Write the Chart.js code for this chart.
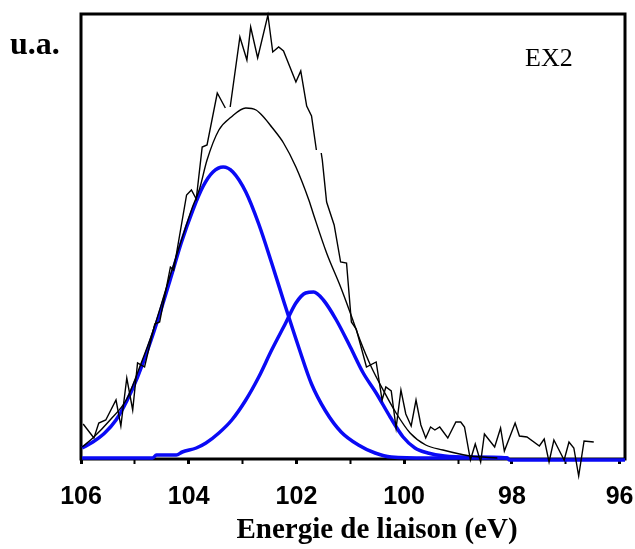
<!DOCTYPE html>
<html>
<head>
<meta charset="utf-8">
<script src="https://cdn.jsdelivr.net/npm/chart.js@4.4.1/dist/chart.umd.min.js"></script>
<style>
  html, body { margin: 0; padding: 0; background: #fff; }
  #wrap { width: 635px; height: 549px; }
</style>
</head>
<body>
<div id="wrap"><canvas id="xps" width="635" height="549"></canvas></div>
<script>
// raw spectrum (binding energy in eV, intensity in arbitrary units)
const rawEnergy = [105.96, 105.76, 105.67, 105.54, 105.35, 105.26, 105.15, 105.04, 104.95, 104.82,
    104.63, 104.54, 104.34, 104.28, 104.04, 103.95, 103.86, 103.75, 103.66, 103.47, 103.32,
    103.28,
    103.23, 103.05, 102.92, 102.85, 102.72, 102.53, 102.44, 102.33, 102.24, 102.01, 101.92,
    101.81, 101.72, 101.63,
    101.58,
    101.54, 101.52, 101.44, 101.30, 101.18, 101.07, 100.98, 100.89, 100.70, 100.52, 100.41,
    100.34, 100.24, 100.15, 100.06, 99.97, 99.87, 99.78, 99.69, 99.60, 99.51, 99.43, 99.34,
    99.19, 99.04, 98.95, 98.88, 98.77, 98.68, 98.58, 98.51, 98.32, 98.21, 98.14, 97.94,
    97.86, 97.72, 97.49, 97.40, 97.31, 97.22, 97.03, 96.94, 96.85, 96.76, 96.66, 96.48];
const rawCounts = [35, 21, 36, 39, 59, 33, 81, 49, 96, 92,
    135, 137, 192, 189, 264, 269, 260, 312, 314, 366, 351,
    null,
    352, 422, 399, 432, 401, 444, 407, 412, 408, 377, 388,
    353, 343, 309,
    null,
    306, 299, 257, 234, 197, 196, 137, 130, 92, 97, 59,
    72, 68, 31, 69, 45, 33, 59, 34, 21, 32, 29, 32,
    21, 37, 37, 32, -1, 15, -3, 25, 12, 31, 8, 36,
    23, 22, 13, 20, -3, 19, -1, 17, 11, -17, 18, 17];

// fitted envelope (sum of components)
const envEnergy = [105.98, 105.78, 105.46, 105.15, 104.91, 104.67, 104.41, 104.17, 103.93, 103.80,
    103.66, 103.44, 103.21, 102.94, 102.75, 102.61, 102.46, 102.24, 102.01, 101.77, 101.68,
    101.44, 101.18, 101.00, 100.82, 100.61, 100.39, 100.15, 99.89, 99.60, 99.28, 98.97,
    98.77, 98.27];
const envCounts = [12, 21, 39, 60, 92, 127, 172, 213, 252, 270,
    299, 329, 342, 351, 349, 342, 332, 316, 292, 259, 244,
    206, 172, 146, 119, 92, 69, 46, 26, 14, 9, 5,
    3, 1];

// component 1 (high energy)
const peak1Energy = [105.98, 105.78, 105.56, 105.35, 105.15, 104.95, 104.75, 104.54, 104.34, 104.14,
    103.93, 103.73, 103.55, 103.36, 103.18, 102.94, 102.70, 102.46, 102.22, 101.96, 101.72,
    101.46, 101.17, 100.85, 100.54, 100.24, 99.56, 98.08];
const peak1Counts = [11, 17, 26, 39, 58, 82, 111, 145, 180, 216,
    248, 273, 287, 292, 287, 267, 235, 196, 155, 112, 75,
    48, 27, 14, 6, 2, 1, 1];

// component 2 (low energy)
const peak2Energy = [105.98, 104.67, 104.60, 104.23, 104.12, 103.86, 103.68, 103.44, 103.20, 102.94,
    102.70, 102.46, 102.20, 102.01, 101.83, 101.68, 101.50, 101.26, 101.00, 100.76, 100.52,
    100.26, 100.02, 99.80, 99.56, 99.25, 98.77, 98.08, 98.05, 95.90];
const peak2Counts = [1, 1, 4, 4, 7, 11, 16, 26, 39, 59,
    82, 109, 136, 156, 166, 167, 159, 139, 112, 86, 66,
    42, 22, 11, 6, 3, 2, 1, -1, -1];

const toPoints = (xs, ys) => xs.map((x, i) => ({ x: x, y: ys[i] }));

const blue = '#0a0af5';

// frame around the plot + free text
const decor = {
    id: 'decor',
    beforeDatasetsDraw(chart) {
        const a = chart.chartArea, ctx = chart.ctx;
        ctx.save();
        ctx.strokeStyle = '#000';
        ctx.lineWidth = 3;
        ctx.strokeRect(a.left, a.top, a.right - a.left, a.bottom - a.top);
        ctx.restore();
    },
    afterDraw(chart) {
        const ctx = chart.ctx;
        ctx.save();
        ctx.fillStyle = '#000';
        ctx.textBaseline = 'alphabetic';
        ctx.font = 'bold 32px "Liberation Serif"';
        ctx.fillText('u.a.', 10, 54);
        ctx.font = '26px "Liberation Serif"';
        ctx.fillText('EX2', 525, 66);
        ctx.font = 'bold 29px "Liberation Serif"';
        ctx.textAlign = 'center';
        ctx.fillText('Energie de liaison (eV)', 377, 538);
        ctx.restore();
    }
};

new Chart(document.getElementById('xps'), {
    type: 'line',
    data: {
        datasets: [
            {
                label: 'EX2',
                data: toPoints(rawEnergy, rawCounts),
                borderColor: '#000',
                borderWidth: 1.4,
                pointRadius: 0,
                tension: 0,
                spanGaps: false,
                clip: false
            },
            {
                label: 'enveloppe',
                data: toPoints(envEnergy, envCounts),
                borderColor: '#000',
                borderWidth: 1.4,
                pointRadius: 0,
                cubicInterpolationMode: 'monotone'
            },
            {
                label: 'composante 1',
                data: toPoints(peak1Energy, peak1Counts),
                borderColor: blue,
                borderWidth: 3.5,
                pointRadius: 0,
                cubicInterpolationMode: 'monotone',
                clip: false
            },
            {
                label: 'composante 2',
                data: toPoints(peak2Energy, peak2Counts),
                borderColor: blue,
                borderWidth: 3.5,
                pointRadius: 0,
                cubicInterpolationMode: 'monotone',
                clip: false
            }
        ]
    },
    options: {
        responsive: false,
        animation: false,
        layout: { padding: { left: 81, right: 10, top: 14, bottom: 0 } },
        plugins: {
            legend: { display: false },
            tooltip: { enabled: false }
        },
        scales: {
            x: {
                type: 'linear',
                reverse: true,
                min: 95.9,
                max: 106,
                afterFit(scale) {
                    scale.height = 90;
                    scale.paddingLeft = 0;
                    scale.paddingRight = 0;
                },
                afterBuildTicks(scale) {
                    scale.ticks = [96, 97, 98, 99, 100, 101, 102, 103, 104, 105, 106].map(v => ({ value: v }));
                },
                ticks: {
                    autoSkip: false,
                    maxRotation: 0,
                    padding: 18,
                    color: '#000',
                    font: { family: '"Liberation Sans"', size: 25, weight: 'bold' },
                    callback: v => (v % 2 === 0 ? v : '')
                },
                grid: {
                    drawOnChartArea: false,
                    drawTicks: true,
                    tickLength: 5,
                    tickColor: '#000',
                    tickWidth: c => (c.tick && c.tick.value % 2 === 0 ? 3 : 2)
                },
                border: { display: false },
                title: { display: false }
            },
            y: {
                display: false,
                min: 0,
                max: 445
            }
        }
    },
    plugins: [decor]
});
</script>
</body>
</html>
